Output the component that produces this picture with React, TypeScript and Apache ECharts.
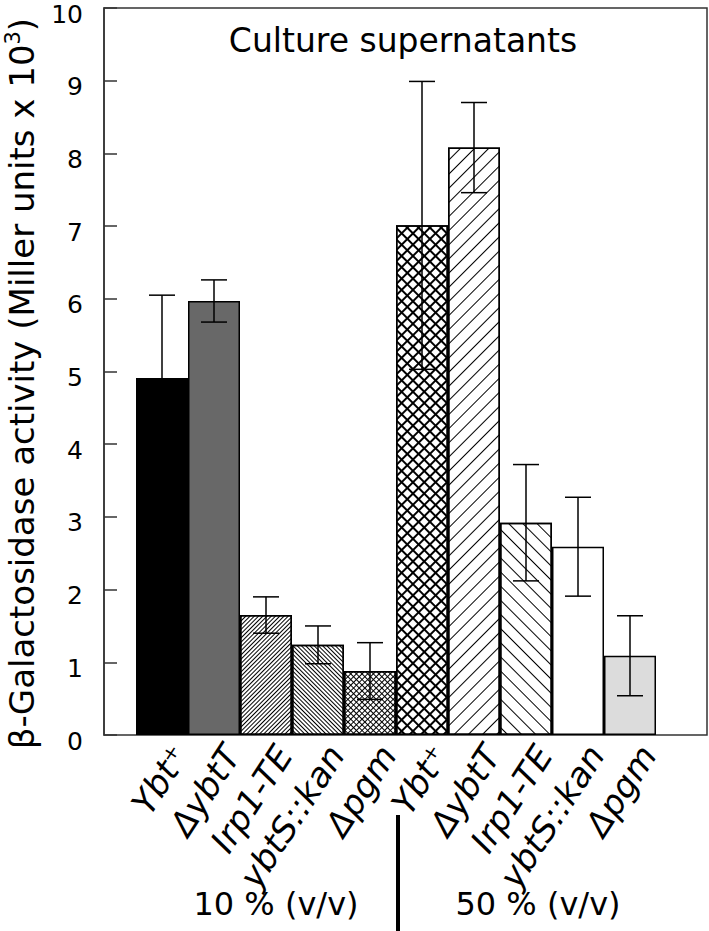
import React, { useEffect, useRef } from 'react';
import * as echarts from 'echarts';

// ---- data ----
const categories = ['Ybt⁺', 'ΔybtT', 'Irp1-TE', 'ybtS::kan', 'Δpgm', 'Ybt⁺', 'ΔybtT', 'Irp1-TE', 'ybtS::kan', 'Δpgm'];
const means = [4.91, 5.97, 1.65, 1.24, 0.88, 7.01, 8.08, 2.92, 2.59, 1.09];
const errors = [1.14, 0.29, 0.25, 0.26, 0.39, 1.98, 0.62, 0.8, 0.68, 0.55];
const yMin = 0;
const yMax = 10;
const yStep = 1;
const groupLabels = ['10 % (v/v)', '50 % (v/v)'];
const titleText = 'Culture supernatants';
const yName = 'β-Galactosidase activity (Miller units x 10';

// ---- styles ----
const FONT = 'DejaVu Sans';
const stripe = (w: number, g: number, rot: number) => ({
  symbol: 'rect', symbolSize: 1, color: '#000', backgroundColor: '#fff',
  dashArrayX: [1, 0], dashArrayY: [w, g], rotation: rot,
});
const cross = (w: number, g: number) => ({
  symbol: 'rect', symbolSize: 1, color: '#000', backgroundColor: '#fff',
  dashArrayX: [[1, 0], [w, g]], dashArrayY: [w, 0, g, 0], rotation: Math.PI / 4,
});
const Q = Math.PI / 4;
const barStyles: any[] = [
  { color: '#000' },
  { color: '#686868' },
  { color: '#fff', decal: stripe(1, 2, -Q) },
  { color: '#fff', decal: stripe(1, 2, Q) },
  { color: '#fff', decal: cross(1, 3) },
  { color: '#fff', decal: cross(2, 6) },
  { color: '#fff', decal: stripe(1, 9, -Q) },
  { color: '#fff', decal: stripe(1, 9, Q) },
  { color: '#fff' },
  { color: '#dcdcdc' },
];

export default function App() {
  const ref = useRef<HTMLDivElement>(null);
  useEffect(() => {
    if (!ref.current) return;
    const chart = echarts.init(ref.current, null, { renderer: 'svg' });
    const gridTop = 8;
    const gridH = 727;
    chart.setOption({
      animation: false,
      backgroundColor: '#fff',
      title: {
        text: titleText, left: 403, top: 24, textAlign: 'center', padding: 0,
        textStyle: { fontFamily: FONT, fontSize: 33, fontWeight: 'normal', color: '#000' },
      },
      grid: [
        { left: 104, top: gridTop, width: 603, height: gridH, show: true, borderColor: '#333', borderWidth: 1.5, backgroundColor: 'transparent', outerBoundsMode: 'none', containLabel: false },
        { left: 136, top: gridTop, width: 520, height: gridH, outerBoundsMode: 'none', containLabel: false },
      ],
      xAxis: [
        { gridIndex: 0, type: 'value', min: 0, max: 1, show: false },
        {
          gridIndex: 1, type: 'category', data: categories,
          axisLine: { show: false }, axisTick: { show: false }, splitLine: { show: false },
          axisLabel: {
            interval: 0, rotate: 57, margin: 2, color: '#000',
            verticalAlign: 'top', lineHeight: 43,
            fontFamily: FONT, fontStyle: 'italic', fontSize: 34,
          },
        },
      ],
      yAxis: [
        {
          gridIndex: 0, type: 'value', min: yMin, max: yMax, interval: yStep,
          axisLine: { show: true, lineStyle: { color: '#333', width: 1.5 } },
          axisTick: { show: true, inside: true, length: 13, lineStyle: { color: '#333', width: 1.5 } },
          splitLine: { show: false },
          axisLabel: { color: '#000', fontFamily: FONT, fontSize: 25, margin: 21, verticalAlign: 'top', lineHeight: 12 },
          name: `{a|${yName}}{s|3}{a|)}`,
          nameLocation: 'middle', nameGap: 62,
          nameTextStyle: {
            padding: [0, 24, 0, 0],
            rich: {
              a: { fontFamily: FONT, fontSize: 34, lineHeight: 40, color: '#000' },
              s: { fontFamily: FONT, fontSize: 21, lineHeight: 22, verticalAlign: 'top', color: '#000' },
            },
          },
        },
        { gridIndex: 1, type: 'value', min: yMin, max: yMax, interval: yStep, show: false },
      ],
      series: [
        {
          type: 'bar', xAxisIndex: 1, yAxisIndex: 1, barCategoryGap: 0, barGap: 0,
          data: means.map((v, i) => ({
            value: v,
            itemStyle: { ...barStyles[i], borderColor: '#000', borderWidth: 1.5 },
          })),
        },
        {
          type: 'custom', xAxisIndex: 1, yAxisIndex: 1, z: 10,
          data: means.map((m, i) => [i, m - errors[i], m + errors[i]]),
          encode: { x: 0, y: [1, 2] },
          renderItem: (params: any, api: any) => {
            const x = api.value(0);
            const lo = api.coord([x, api.value(1)]);
            const hi = api.coord([x, api.value(2)]);
            const hw = 13;
            const style = { stroke: '#000', lineWidth: 1.5 };
            return {
              type: 'group',
              children: [
                { type: 'line', shape: { x1: hi[0], y1: hi[1], x2: lo[0], y2: lo[1] }, style },
                { type: 'line', shape: { x1: hi[0] - hw, y1: hi[1], x2: hi[0] + hw, y2: hi[1] }, style },
                { type: 'line', shape: { x1: lo[0] - hw, y1: lo[1], x2: lo[0] + hw, y2: lo[1] }, style },
              ],
            };
          },
        },
      ],
      graphic: [
        { type: 'rect', shape: { x: 396, y: 815, width: 4, height: 120 }, style: { fill: '#000' } },
        { type: 'text', x: 276, y: 904, style: { text: groupLabels[0], fontFamily: FONT, fontSize: 32, fill: '#000', textAlign: 'center', textVerticalAlign: 'middle' } },
        { type: 'text', x: 538, y: 904, style: { text: groupLabels[1], fontFamily: FONT, fontSize: 32, fill: '#000', textAlign: 'center', textVerticalAlign: 'middle' } },
      ],
    });
    return () => chart.dispose();
  }, []);
  return <div ref={ref} style={{ position: 'fixed', left: 0, top: 0, width: 709, height: 931 }} />;
}
